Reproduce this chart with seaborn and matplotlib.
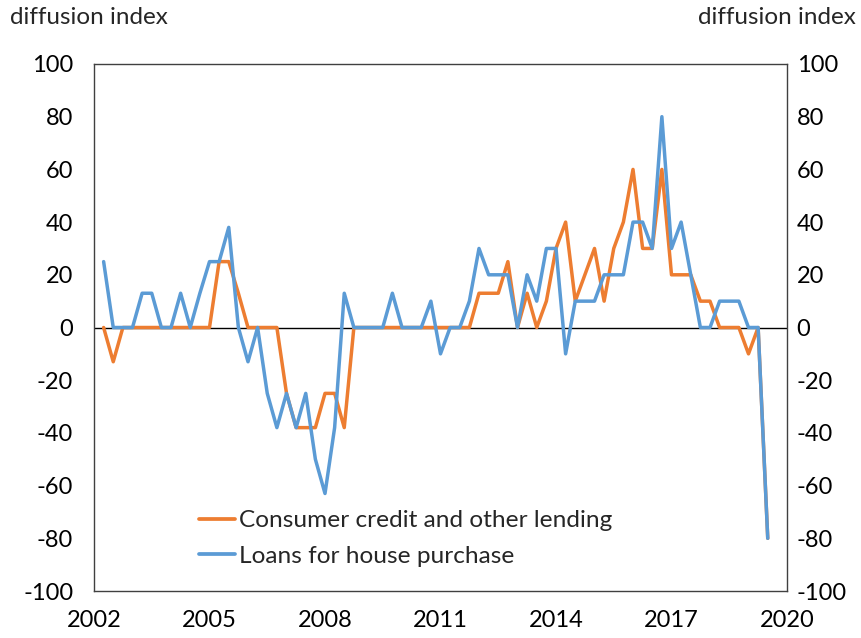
import matplotlib
matplotlib.use("Agg")
import matplotlib.pyplot as plt
import numpy as np
import pandas as pd
import seaborn as sns

# quarterly survey, 2002 Q2 onwards
start_year = 2002.25
step = 0.25

consumer_credit = [
    0, -13, 0, 0, 0, 0, 0, 0, 0, 0,
    0, 0, 25, 25, 13, 0, 0, 0, 0, -25,
    -38, -38, -38, -25, -25, -38, 0, 0, 0, 0,
    0, 0, 0, 0, 0, 0, 0, 0, 0, 13,
    13, 13, 25, 0, 13, 0, 10, 30, 40, 10,
    20, 30, 10, 30, 40, 60, 30, 30, 60, 20,
    20, 20, 10, 10, 0, 0, 0, -10, 0, -80,
]
house_purchase = [
    25, 0, 0, 0, 13, 13, 0, 0, 13, 0,
    13, 25, 25, 38, 0, -13, 0, -25, -38, -25,
    -38, -25, -50, -63, -38, 13, 0, 0, 0, 0,
    13, 0, 0, 0, 10, -10, 0, 0, 10, 30,
    20, 20, 20, 0, 20, 10, 30, 30, -10, 10,
    10, 10, 20, 20, 20, 40, 40, 30, 80, 30,
    40, 20, 0, 0, 10, 10, 10, 0, 0, -80,
]
series_names = ["Consumer credit and other lending", "Loans for house purchase"]
series_colors = ["#ED7D31", "#5B9BD5"]
x_ticks = [2002, 2005, 2008, 2011, 2014, 2017, 2020]
y_ticks = [-100, -80, -60, -40, -20, 0, 20, 40, 60, 80, 100]

n = len(house_purchase)
dates = start_year + step * np.arange(n)
df = pd.DataFrame({
    "date": np.concatenate([dates, dates]),
    "value": consumer_credit + house_purchase,
    "series": [series_names[0]] * n + [series_names[1]] * n,
})

sns.set_theme(style="white")
plt.rcParams["font.family"] = ["Lato", "DejaVu Sans"]
plt.rcParams["axes.unicode_minus"] = False

fig = plt.figure(figsize=(8.61, 6.38), dpi=100)
ax = fig.add_axes([94 / 861, 1 - 591 / 638, (787 - 94) / 861, (591 - 64) / 638])

sns.lineplot(
    data=df, x="date", y="value", hue="series",
    hue_order=series_names, palette=series_colors,
    linewidth=2.5, ax=ax, legend=True,
)
ax.axhline(0, color="black", linewidth=1.0, zorder=1)

ax.set_xlim(2002, 2020)
ax.set_ylim(-100, 100)
ax.set_xticks(x_ticks)
ax.set_yticks(y_ticks)
ax.set_xlabel("")
ax.set_ylabel("")
ax.tick_params(axis="both", length=0, labelsize=17, colors="black")
ax.tick_params(axis="y", pad=15)
ax.tick_params(axis="x", pad=14)
for s in ax.spines.values():
    s.set_color("#404040")
    s.set_linewidth(1.0)

ax2 = ax.twinx()
ax2.set_ylim(-100, 100)
ax2.set_yticks(y_ticks)
ax2.tick_params(axis="y", length=0, labelsize=17, pad=7, colors="black")
for s in ax2.spines.values():
    s.set_visible(False)

leg = ax.legend(
    loc="lower left", bbox_to_anchor=(0.12, 0.004), frameon=False,
    fontsize=17.6, handlelength=1.45, handletextpad=0.2, labelspacing=0.6,
)
for line in leg.get_lines():
    line.set_linewidth(2.7)

fig.text(10 / 861, 1 - 7 / 638, "diffusion index", ha="left", va="top", fontsize=17.5)
fig.text(856 / 861, 1 - 7 / 638, "diffusion index", ha="right", va="top", fontsize=17.5)

fig.savefig("out.png", dpi=100, facecolor="white")
